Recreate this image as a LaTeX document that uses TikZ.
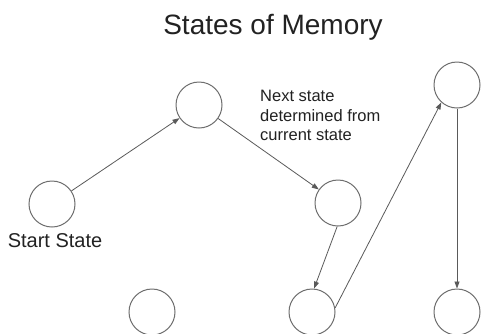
\documentclass[tikz,border=0pt]{standalone}
\usepackage{fontspec}
\setmainfont{Liberation Sans}
\usetikzlibrary{arrows.meta}
\definecolor{circlegray}{HTML}{6E6E6E}
\definecolor{linegray}{HTML}{5A5A5A}
\definecolor{textgray}{HTML}{222222}
\begin{document}
\begin{tikzpicture}[x=1pt,y=-1pt,
  state/.style={circle,draw=circlegray,line width=1pt,minimum size=46pt,inner sep=0pt,fill=white},
  conn/.style={draw=linegray,line width=0.8pt,-{Triangle[length=7pt,width=5pt]}},
  lbl/.style={inner sep=0pt,text=textgray}]
\useasboundingbox[fill=white] (0,0) rectangle (481,333);
\node[lbl,anchor=base,font=\fontsize{28}{34}\selectfont] (title) at (273,34) {States of Memory};
\node[state] (s)  at (52,204) {};
\node[state] (t)  at (199,105) {};
\node[state] (rm) at (338,203) {};
\node[state] (bl) at (152,312) {};
\node[state] (bm) at (312,312) {};
\node[state] (tr) at (457,85) {};
\node[state] (br) at (457,312) {};
\node[lbl,anchor=base,font=\fontsize{20}{24}\selectfont] (startlbl) at (55,247) {Start State};
\node[lbl,anchor=north west,align=left,font=\fontsize{16.5}{19.5}\selectfont] (note) at (260,90)
  {Next state\\determined from\\current state};
\draw[conn] (s) -- (t);
\draw[conn] (t) -- (rm);
\draw[conn] (rm.-92) -- (bm.85);
\draw[conn] (bm.10) -- (tr.228);
\draw[conn] (tr.south) -- (br.north);
\end{tikzpicture}
\end{document}
